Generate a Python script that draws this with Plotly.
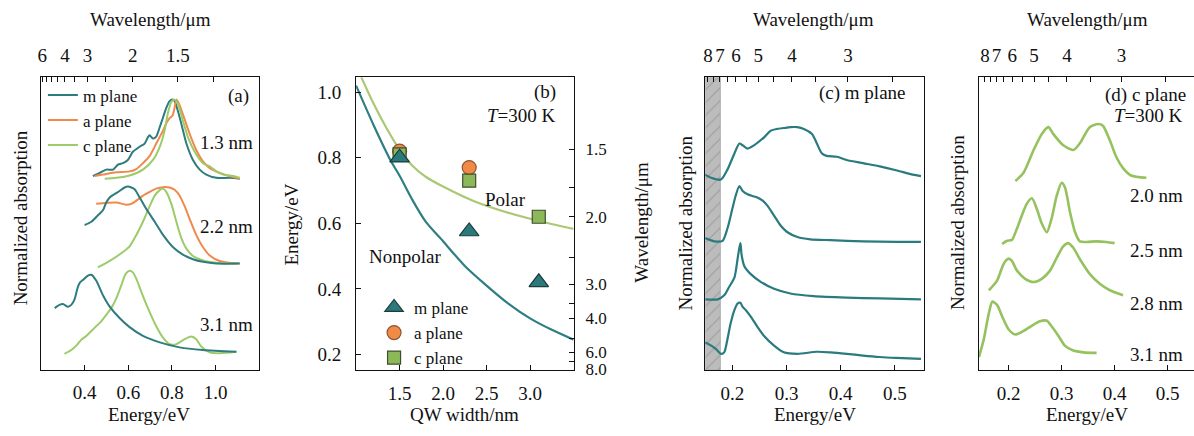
import plotly.graph_objects as go

W, H = 1194, 436
SERIF = "Liberation Serif"
TEAL = "#2f7c7f"
ORANGE = "#f0894b"
GREEN = "#9ccb69"
DGREEN = "#95c25f"
HC = 1.2398  # eV*um, energy <-> wavelength

# ---------------- Panel (a): absorption vs energy ----------------
a_m13_e = [0.438,0.469,0.499,0.530,0.553,0.576,0.598,0.621,0.652,0.675,0.690,0.698,0.713,0.728,0.744,0.759,0.774,0.789,0.802,0.812,0.827,0.843,0.866,0.896,0.927,0.957,1.003,1.064,1.110]
a_m13_y = [66.3,67.4,68.5,68.5,70.2,70.7,71.8,74.6,76.3,77.4,79.6,80.2,79.1,79.8,83.0,86.3,89.6,91.9,92.4,91.9,88.5,84.1,77.4,71.8,68.5,66.8,65.7,65.7,65.4]
a_a13_e = [0.446,0.484,0.545,0.606,0.637,0.667,0.698,0.728,0.759,0.774,0.789,0.802,0.812,0.820,0.832,0.850,0.881,0.911,0.942,0.973,1.018,1.064,1.110]
a_a13_y = [66.3,66.8,67.6,67.9,68.7,70.7,73.2,77.4,81.8,84.3,86.1,86.9,89.6,92.4,91.0,87.4,80.7,75.2,71.3,69.0,67.4,66.3,65.4]
a_c13_e = [0.492,0.545,0.606,0.667,0.713,0.744,0.766,0.782,0.797,0.812,0.827,0.850,0.873,0.904,0.942,0.973,1.003,1.034,1.079,1.110]
a_c13_y = [65.4,65.7,66.5,68.5,71.8,76.3,81.8,88.0,91.6,92.4,91.0,85.2,79.6,74.6,70.7,69.6,67.9,66.8,66.3,65.7]

a_m22_e = [0.400,0.431,0.461,0.484,0.499,0.515,0.537,0.560,0.583,0.598,0.614,0.629,0.652,0.682,0.721,0.759,0.805,0.850,0.896,0.942,1.003,1.110]
a_m22_y = [49.6,50.7,52.9,54.6,57.3,59.0,60.1,61.2,62.4,62.7,62.4,61.8,59.0,55.1,50.7,46.2,42.0,39.5,37.9,37.0,36.4,36.4]
a_a22_e = [0.453,0.499,0.545,0.591,0.614,0.637,0.667,0.698,0.728,0.759,0.789,0.812,0.835,0.858,0.881,0.911,0.942,0.973,1.018,1.064,1.110]
a_a22_y = [56.8,57.1,57.3,56.5,56.8,57.9,59.6,60.9,62.0,62.5,62.4,61.6,59.6,56.0,51.6,46.2,42.0,39.2,37.3,36.7,36.4]
a_c22_e = [0.461,0.515,0.560,0.606,0.637,0.667,0.698,0.721,0.744,0.759,0.774,0.797,0.820,0.843,0.866,0.896,0.942,1.003,1.095]
a_c22_y = [35.1,37.3,39.5,42.3,46.2,50.7,56.0,59.6,61.5,62.0,60.9,56.8,50.7,45.1,41.5,39.0,37.5,36.7,36.4]

a_m31_e = [0.263,0.285,0.301,0.324,0.339,0.354,0.369,0.380,0.392,0.415,0.431,0.453,0.484,0.515,0.560,0.606,0.667,0.744,0.835,0.942,1.095]
a_m31_y = [21.2,22.3,22.6,21.7,22.3,24.2,28.4,30.1,30.8,32.3,32.6,30.6,25.6,21.7,17.8,14.7,11.7,9.5,7.8,6.9,6.3]
a_c31_e = [0.308,0.339,0.362,0.385,0.408,0.431,0.453,0.476,0.499,0.522,0.545,0.568,0.588,0.606,0.621,0.637,0.660,0.690,0.728,0.759,0.789,0.820,0.858,0.889,0.911,0.934,0.973,1.018,1.095]
a_c31_y = [5.6,6.9,8.4,10.4,11.7,13.4,15.0,16.7,18.9,21.2,24.5,29.0,32.9,34.0,33.4,31.2,26.7,21.2,15.0,11.1,8.9,8.9,10.6,11.5,10.6,8.1,6.1,5.8,6.3]

# ---------------- Panel (b): transition energy vs QW width ----------------
b_m_w = [1.5, 2.3, 3.1]
b_m_e = [0.80, 0.575, 0.42]
b_a_w = [1.5, 2.3]
b_a_e = [0.82, 0.77]
b_c_w = [1.5, 2.3, 3.1]
b_c_e = [0.81, 0.73, 0.62]
b_nonpolar_w = [1.0, 1.2, 1.4, 1.5, 1.65, 1.8, 2.0, 2.25, 2.5, 2.75, 3.0, 3.25, 3.5]
b_nonpolar_e = [1.02, 0.90, 0.79, 0.745, 0.67, 0.605, 0.545, 0.47, 0.41, 0.355, 0.31, 0.275, 0.245]
b_polar_w = [1.06, 1.2, 1.35, 1.5, 1.65, 1.8, 2.0, 2.35, 2.7, 3.1, 3.5]
b_polar_e = [1.045, 0.965, 0.89, 0.825, 0.775, 0.742, 0.712, 0.668, 0.636, 0.607, 0.583]

# ---------------- Panel (c): m plane, mid-IR ----------------
c1_e = [0.150,0.161,0.179,0.191,0.204,0.213,0.219,0.228,0.240,0.259,0.271,0.283,0.295,0.307,0.320,0.332,0.347,0.356,0.365,0.374,0.393,0.411,0.441,0.472,0.502,0.533,0.548]
c1_y = [66.8,65.7,65.1,68.5,74.1,77.4,76.8,75.7,76.8,79.6,81.8,82.4,82.7,83.0,83.0,82.4,80.7,77.4,74.1,73.2,72.9,71.8,70.7,69.6,68.3,66.8,66.3]
c2_e = [0.150,0.167,0.182,0.191,0.200,0.206,0.213,0.219,0.228,0.237,0.246,0.256,0.265,0.277,0.289,0.301,0.320,0.344,0.381,0.441,0.502,0.548]
c2_y = [45.1,44.0,44.2,48.4,55.1,59.5,62.9,61.2,60.1,59.5,59.0,57.9,56.1,52.8,49.4,47.2,45.5,44.7,44.4,44.0,43.8,43.8]
c3_e = [0.150,0.173,0.185,0.194,0.204,0.210,0.213,0.215,0.217,0.222,0.234,0.253,0.277,0.307,0.350,0.411,0.472,0.548]
c3_y = [24.2,24.2,25.6,28.4,31.7,38.4,41.8,43.4,39.5,35.6,32.8,30.1,27.8,26.2,25.3,24.8,24.5,24.2]
c4_e = [0.150,0.161,0.170,0.179,0.185,0.191,0.197,0.204,0.210,0.215,0.219,0.225,0.234,0.246,0.259,0.277,0.295,0.320,0.356,0.381,0.411,0.441,0.472,0.502,0.548]
c4_y = [9.5,8.4,7.2,5.6,6.1,10.6,16.1,20.6,22.8,23.0,21.6,20.5,18.3,14.9,11.6,8.4,6.1,5.6,6.3,6.1,5.6,5.0,4.5,4.2,3.9]
c_shade = [0.150, 0.178]  # hatched (opaque) energy band

# ---------------- Panel (d): c plane, mid-IR ----------------
d20_e = [0.2125,0.228,0.247,0.2625,0.275,0.284,0.303,0.322,0.334,0.353,0.369,0.378,0.391,0.403,0.416,0.431,0.460]
d20_y = [64.6,67.4,75.2,80.7,83.0,80.7,76.8,75.2,77.4,83.0,84.1,83.5,78.5,72.9,69.0,66.5,65.7]
d25_e = [0.1875,0.197,0.206,0.2156,0.225,0.234,0.2438,0.253,0.2625,0.272,0.281,0.2907,0.300,0.3063,0.3157,0.325,0.3345,0.347,0.3657,0.3845,0.400]
d25_y = [43.1,44.2,44.5,48.4,52.9,56.8,58.7,55.1,50.1,47.1,51.8,59.6,64.0,62.4,54.0,47.3,44.0,43.8,44.0,43.8,43.4]
d28_e = [0.1625,0.178,0.1875,0.194,0.200,0.206,0.2156,0.231,0.247,0.2625,0.278,0.2907,0.303,0.3125,0.322,0.3345,0.353,0.372,0.391,0.416]
d28_y = [27.3,30.6,35.1,37.3,38.1,37.3,34.0,31.2,30.1,31.2,34.0,38.4,42.3,43.4,41.8,37.9,32.9,29.5,27.3,25.6]
d31_e = [0.1437,0.153,0.1625,0.169,0.178,0.1875,0.200,0.2125,0.228,0.247,0.259,0.272,0.281,0.294,0.306,0.322,0.341,0.366]
d31_y = [4.5,10.6,19.5,23.4,22.3,18.4,13.9,12.2,13.4,15.6,16.7,16.9,15.0,11.7,8.4,6.7,6.1,5.9]

# tick labels
a_bottom_ticks = [0.4, 0.6, 0.8, 1.0]
a_top_wl = [6, 5.5, 5, 4.5, 4, 3.5, 3, 2.5, 2, 1.5, 1.25]
a_top_txt = ["6", "", "", "", "4", "", "3", "", "2", "1.5", ""]
b_x_ticks = [1.5, 2.0, 2.5, 3.0]
b_y_ticks = [0.2, 0.4, 0.6, 0.8, 1.0]
b_right_wl = [1.5, 1.75, 2.0, 2.5, 3.0, 3.5, 4.0, 5.0, 6.0, 7.0, 8.0]
b_right_txt = ["1.5", "", "2.0", "", "3.0", "", "4.0", "", "6.0", "", "8.0"]
cd_bottom_ticks = [0.2, 0.3, 0.4, 0.5]
cd_top_wl = [8, 7.5, 7, 6.5, 6, 5.5, 5, 4.5, 4, 3.5, 3, 2.5]
cd_top_txt = ["8", "", "7", "", "6", "", "5", "", "4", "", "3", ""]

# ---------------- layout geometry (pixels) ----------------
def px(x):
    return x / W

def py(y):
    return 1 - y / H

ydom = [py(378), py(79)]
dom_a = [px(38), px(257)]
dom_b = [px(354), px(572)]
dom_c = [px(704), px(923)]
dom_d = [px(978), 1.0]

fig = go.Figure()

def line(x, y, color, xa, ya, width=2.0, name=None, legend=None, showlegend=False, rank=None):
    fig.add_trace(go.Scatter(
        x=x, y=y, mode="lines", name=name, showlegend=showlegend,
        legend=legend, legendrank=rank if rank else 1000,
        line=dict(color=color, width=width, shape="spline", smoothing=0.7),
        xaxis=xa, yaxis=ya, hoverinfo="skip"))

# panel (a)
line(a_m13_e, a_m13_y, TEAL, "x", "y", name="m plane", legend="legend", showlegend=True, rank=1)
line(a_a13_e, a_a13_y, ORANGE, "x", "y", name="a plane", legend="legend", showlegend=True, rank=2)
line(a_c13_e, a_c13_y, GREEN, "x", "y", name="c plane", legend="legend", showlegend=True, rank=3)
line(a_a22_e, a_a22_y, ORANGE, "x", "y")
line(a_c22_e, a_c22_y, GREEN, "x", "y")
line(a_m22_e, a_m22_y, TEAL, "x", "y")
line(a_c31_e, a_c31_y, GREEN, "x", "y")
line(a_m31_e, a_m31_y, TEAL, "x", "y")

# panel (b)
line(b_nonpolar_w, b_nonpolar_e, "#2f7f82", "x2", "y2", width=2.2)
line(b_polar_w, b_polar_e, "#abc874", "x2", "y2", width=2.2)
fig.add_trace(go.Scatter(x=b_a_w, y=b_a_e, mode="markers", name="a plane", legend="legend2",
                         legendrank=2,
                         marker=dict(symbol="circle", size=14, color="#f08a45",
                                     line=dict(color="#8a5533", width=1.2)),
                         xaxis="x2", yaxis="y2", hoverinfo="skip"))
fig.add_trace(go.Scatter(x=b_c_w, y=b_c_e, mode="markers", name="c plane", legend="legend2",
                         legendrank=3,
                         marker=dict(symbol="square", size=13, color="#8cb85a",
                                     line=dict(color="#3f4f2c", width=1.2)),
                         xaxis="x2", yaxis="y2", hoverinfo="skip"))
fig.add_trace(go.Scatter(x=b_m_w, y=b_m_e, mode="markers", name="m plane", legend="legend2",
                         legendrank=1,
                         marker=dict(symbol="triangle-up", size=17, color="#2b7a7b",
                                     line=dict(color="#1d3c3d", width=1.2)),
                         xaxis="x2", yaxis="y2", hoverinfo="skip"))

# panel (c)
fig.add_trace(go.Scatter(
    x=[c_shade[0], c_shade[1], c_shade[1], c_shade[0], c_shade[0]],
    y=[0, 0, 100, 100, 0], mode="lines", fill="toself",
    fillcolor="#b9b9b9",
    fillpattern=dict(shape="/", bgcolor="#bcbcbc", fgcolor="#8a8a8a", size=9, solidity=0.15),
    line=dict(color="#9a9a9a", width=0.6), showlegend=False,
    xaxis="x3", yaxis="y3", hoverinfo="skip"))
for xs, ys in [(c1_e, c1_y), (c2_e, c2_y), (c3_e, c3_y), (c4_e, c4_y)]:
    line(xs, ys, "#2a7b7f", "x3", "y3", width=2.2)

# panel (d)
for xs, ys in [(d20_e, d20_y), (d25_e, d25_y), (d28_e, d28_y), (d31_e, d31_y)]:
    line(xs, ys, DGREEN, "x4", "y4", width=2.6)

# empty traces to register overlay (top / right) axes
for xa, ya in [("x5", "y"), ("x6", "y3"), ("x7", "y4"), ("x2", "y5")]:
    fig.add_trace(go.Scatter(x=[None], y=[None], xaxis=xa, yaxis=ya, showlegend=False, hoverinfo="skip"))

FS = 19
TF = dict(family=SERIF, size=FS, color="#111")
common = dict(showgrid=False, zeroline=False, showline=True, linecolor="#111", linewidth=1.3,
              tickcolor="#111", tickfont=TF)

def bottom_x(domain, rng, tickvals, anchor, standoff=5):
    return dict(common, domain=domain, range=rng, anchor=anchor, mirror=True,
                tickvals=tickvals, ticktext=[f"{v:.1f}" for v in tickvals],
                ticks="inside", ticklen=5, ticklabelstandoff=standoff)

def top_x(overlay, rng, wl, txt, anchor):
    return dict(showgrid=False, zeroline=False, overlaying=overlay, side="top", anchor=anchor,
                range=rng, tickvals=[HC / w for w in wl], ticktext=txt,
                ticks="inside", ticklen=5, tickcolor="#111", tickfont=TF,
                showline=False, ticklabelstandoff=11)

def blank_y(domain, anchor, mirror=True):
    return dict(common, domain=domain, range=[0, 100], anchor=anchor, mirror=mirror,
                showticklabels=False, ticks="")

rng_a = [0.2, 1.2]
rng_c = [0.15, 0.553]
rng_d = [0.143, 0.55]
rng_by = [0.152, 1.045]

fig.update_layout(
    width=W, height=H, autosize=False,
    margin=dict(l=0, r=0, t=0, b=0),
    plot_bgcolor="white", paper_bgcolor="white",
    font=dict(family=SERIF, size=FS, color="#111"),
    xaxis=bottom_x(dom_a, rng_a, a_bottom_ticks, "y"),
    yaxis=blank_y(ydom, "x"),
    xaxis5=top_x("x", rng_a, a_top_wl, a_top_txt, "y"),
    xaxis2=dict(common, domain=dom_b, range=[1.0, 3.5], anchor="y2", mirror=True,
                tickvals=b_x_ticks, ticktext=[f"{v:.1f}" for v in b_x_ticks],
                ticks="inside", ticklen=5, ticklabelstandoff=6),
    yaxis2=dict(common, domain=ydom, range=rng_by, anchor="x2", mirror=True,
                tickvals=b_y_ticks, ticktext=[f"{v:.1f}" for v in b_y_ticks],
                ticks="inside", ticklen=5, ticklabelstandoff=10),
    yaxis5=dict(showgrid=False, zeroline=False, overlaying="y2", side="right", anchor="x2",
                range=rng_by, tickvals=[HC / w for w in b_right_wl], ticktext=b_right_txt,
                ticks="inside", ticklen=5, tickcolor="#111",
                tickfont=dict(family=SERIF, size=17, color="#111"), showline=False,
                ticklabelstandoff=11),
    xaxis3=bottom_x(dom_c, rng_c, cd_bottom_ticks, "y3", standoff=6),
    yaxis3=blank_y(ydom, "x3"),
    xaxis6=top_x("x3", rng_c, cd_top_wl, cd_top_txt, "y3"),
    xaxis4=bottom_x(dom_d, rng_d, cd_bottom_ticks, "y4", standoff=6),
    yaxis4=blank_y(ydom, "x4", mirror=False),
    xaxis7=top_x("x4", rng_d, cd_top_wl, cd_top_txt, "y4"),
    legend=dict(x=px(40), y=py(79), xanchor="left", yanchor="top",
                bgcolor="rgba(0,0,0,0)", font=dict(family=SERIF, size=17, color="#111"),
                itemwidth=30, tracegroupgap=0),
    legend2=dict(x=px(372), y=py(296), xanchor="left", yanchor="top",
                 bgcolor="rgba(0,0,0,0)", font=dict(family=SERIF, size=17, color="#111"),
                 itemwidth=30, tracegroupgap=0),
)

def note(text, x, y, size=FS, angle=0):
    fig.add_annotation(text=text, x=px(x), y=py(y), xref="paper", yref="paper",
                       showarrow=False, xanchor="center", yanchor="middle", textangle=angle,
                       font=dict(family=SERIF, size=size, color="#111"))

# axis titles
note("Wavelength/μm", 148, 20)
note("Energy/eV", 146, 423)
note("Normalized absorption", 17, 222, angle=-90)
note("Energy/eV", 289, 229, angle=-90)
note("QW width/nm", 463, 423)
note("Wavelength/μm", 640, 227, angle=-90)
note("Normalized absorption", 684, 228, angle=-90)
note("Wavelength/μm", 813, 20)
note("Energy/eV", 814, 423)
note("Normalized absorption", 957, 227, angle=-90)
note("Wavelength/μm", 1087, 20)
note("Energy/eV", 1087, 423)

# panel labels
note("(a)", 236, 98)
note("1.3 nm", 224, 145)
note("2.2 nm", 224, 231)
note("3.1 nm", 224, 331)
note("(b)", 543, 94)
note("<i>T</i>=300 K", 520, 118)
note("Polar", 504, 204)
note("Nonpolar", 403, 262)
note("(c) m plane", 862, 95)
note("(d) c plane", 1145, 97)
note("<i>T</i>=300 K", 1148, 118)
note("2.0 nm", 1156, 200)
note("2.5 nm", 1156, 256)
note("2.8 nm", 1156, 310)
note("3.1 nm", 1156, 362)

fig.write_html("out.html")
